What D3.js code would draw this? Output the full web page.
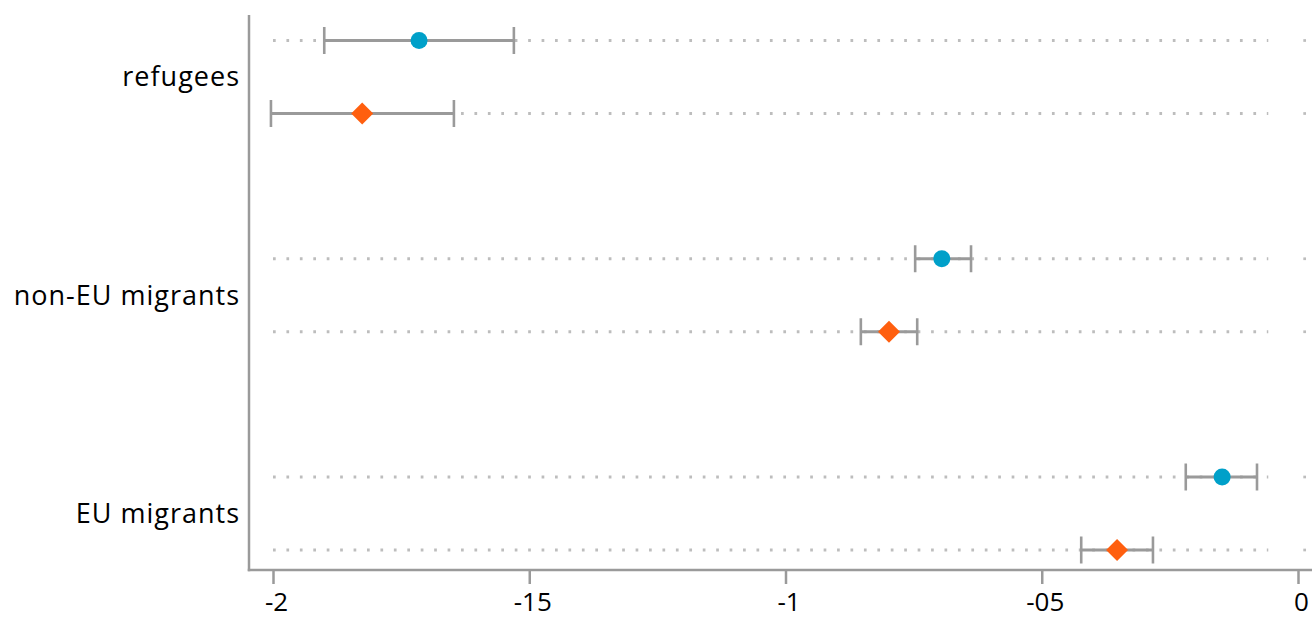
<!DOCTYPE html>
<html>
<head>
<meta charset="utf-8">
<script src="https://cdn.jsdelivr.net/npm/d3@7"></script>
<style>
  html, body { margin: 0; padding: 0; background: #fff; }
  svg { display: block; font-family: "Open Sans", Lato, sans-serif; }
</style>
</head>
<body>
<svg id="chart" width="1312" height="619"></svg>
<script>
// Groups, top to bottom
const categories = ["refugees", "non-EU migrants", "EU migrants"];
// Two estimates per group: first row (circle), second row (diamond)
const seriesNames = ["circle", "diamond"];
const estCircle  = [-1.715, -0.695, -0.148];
const loCircle   = [-1.90, -0.747, -0.219];
const hiCircle   = [-1.53, -0.638, -0.080];
const estDiamond = [-1.826, -0.798, -0.353];
const loDiamond  = [-2.004, -0.853, -0.423];
const hiDiamond  = [-1.647, -0.743, -0.283];
// Axis ticks and the labels printed under them
const tickValues = [-2, -1.5, -1, -0.5, 0];
const tickLabels = ["-2", "-15", "-1", "-05", "0"];

const svg = d3.select("#chart");
const W = 1312, H = 619;
const plotLeft = 249, plotBottom = 570, plotTop = 15;

const x = d3.scaleLinear().domain([-2, 0]).range([273, 1298]);
const yCat = d3.scalePoint().domain(categories).range([77, 513.5]);
const rowOffset = 36.5;

const colors = { circle: "#00a0c9", diamond: "#ff5f0f" };
const grey = "#9a9a9a";

// Build the row records
const rows = [];
categories.forEach((c, i) => {
  rows.push({ cat: c, s: "circle", est: estCircle[i], lo: loCircle[i], hi: hiCircle[i], y: yCat(c) - rowOffset });
  rows.push({ cat: c, s: "diamond", est: estDiamond[i], lo: loDiamond[i], hi: hiDiamond[i], y: yCat(c) + rowOffset });
});

// Dotted guide lines for each row
const gridEnd = -0.058, gridExtra = 0.013;
const g = svg.append("g");
g.selectAll("line.guide").data(rows).join("line")
  .attr("class", "guide")
  .attr("x1", x(-2)).attr("x2", x(gridEnd))
  .attr("y1", d => d.y).attr("y2", d => d.y)
  .attr("stroke", "#bdbdbd").attr("stroke-width", 3)
  .attr("stroke-dasharray", "2.7 10.73");
g.selectAll("rect.guideEnd").data(rows).join("rect")
  .attr("class", "guideEnd")
  .attr("x", x(gridExtra) - 1.35).attr("y", d => d.y - 1.35)
  .attr("width", 2.7).attr("height", 2.7)
  .attr("fill", "#bdbdbd");

// Confidence intervals
const capH = 13.5;
const ci = svg.append("g").attr("stroke", grey).attr("fill", "none");
ci.selectAll("line.bar").data(rows).join("line")
  .attr("x1", d => x(d.lo)).attr("x2", d => x(d.hi))
  .attr("y1", d => d.y).attr("y2", d => d.y)
  .attr("stroke-width", 3);
ci.selectAll("line.capL").data(rows).join("line")
  .attr("x1", d => x(d.lo)).attr("x2", d => x(d.lo))
  .attr("y1", d => d.y - capH).attr("y2", d => d.y + capH)
  .attr("stroke-width", 2.6);
ci.selectAll("line.capR").data(rows).join("line")
  .attr("x1", d => x(d.hi)).attr("x2", d => x(d.hi))
  .attr("y1", d => d.y - capH).attr("y2", d => d.y + capH)
  .attr("stroke-width", 2.6);

// Point estimates
const marks = svg.append("g");
marks.selectAll("circle").data(rows.filter(d => d.s === "circle")).join("circle")
  .attr("cx", d => x(d.est)).attr("cy", d => d.y).attr("r", 8.5)
  .attr("fill", colors.circle);
const dia = d3.symbol().type(d3.symbolSquare).size(242);
marks.selectAll("path").data(rows.filter(d => d.s === "diamond")).join("path")
  .attr("d", dia)
  .attr("transform", d => `translate(${x(d.est)},${d.y}) rotate(45)`)
  .attr("fill", colors.diamond);

// Axes
svg.append("line")
  .attr("x1", plotLeft).attr("x2", plotLeft)
  .attr("y1", plotTop).attr("y2", plotBottom + 1.25)
  .attr("stroke", grey).attr("stroke-width", 2.5);
svg.append("line")
  .attr("x1", plotLeft - 1.25).attr("x2", W)
  .attr("y1", plotBottom).attr("y2", plotBottom)
  .attr("stroke", grey).attr("stroke-width", 2.5);

const xAxis = d3.axisBottom(x)
  .tickValues(tickValues)
  .tickFormat((d, i) => tickLabels[i])
  .tickSize(14).tickPadding(10);
const ax = svg.append("g").attr("transform", `translate(0,${plotBottom})`).call(xAxis);
ax.select(".domain").remove();
ax.selectAll(".tick line").attr("stroke", grey).attr("stroke-width", 2.5);
ax.selectAll(".tick text")
  .attr("fill", "#000").attr("font-size", 26)
  .attr("font-family", "'Open Sans', Lato, sans-serif")
  .attr("dy", null).attr("y", 41).attr("dx", 3);

// Category labels
svg.append("g").selectAll("text").data(categories).join("text")
  .attr("x", 240).attr("y", d => yCat(d))
  .attr("dy", "0.35em")
  .attr("text-anchor", "end")
  .attr("font-size", 27)
  .attr("letter-spacing", 1)
  .attr("fill", "#000")
  .text(d => d);
</script>
</body>
</html>
